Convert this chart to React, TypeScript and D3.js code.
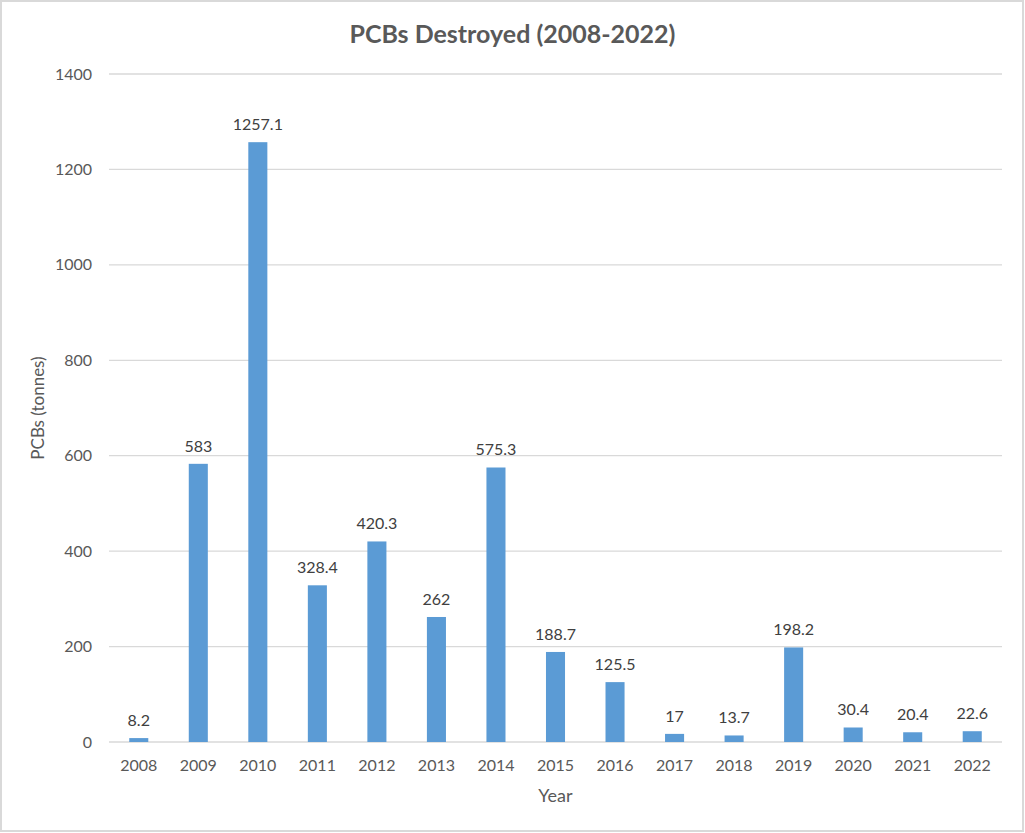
import { useEffect, useRef } from "react";
import * as d3 from "d3";

const years = ["2008", "2009", "2010", "2011", "2012", "2013", "2014", "2015", "2016", "2017", "2018", "2019", "2020", "2021", "2022"];
const tonnes = [8.2, 583, 1257.1, 328.4, 420.3, 262, 575.3, 188.7, 125.5, 17, 13.7, 198.2, 30.4, 20.4, 22.6];
const yTicks = [0, 200, 400, 600, 800, 1000, 1200, 1400];

const W = 1025;
const H = 833;
const FONT = "Lato, 'Open Sans', sans-serif";

export default function App() {
  const svgRef = useRef<SVGSVGElement>(null);

  useEffect(() => {
    const svg = d3.select(svgRef.current);
    svg.selectAll("*").remove();

    const margin = { top: 74, right: 23, bottom: 91, left: 109 };
    const innerW = W - margin.left - margin.right;
    const innerH = H - margin.top - margin.bottom;

    // background + light frame
    svg.append("rect").attr("x", 1).attr("y", 1).attr("width", W - 3).attr("height", H - 3)
      .attr("fill", "#fff").attr("stroke", "#d9d9d9").attr("stroke-width", 2);

    svg.append("text")
      .attr("x", W / 2).attr("y", 43)
      .attr("text-anchor", "middle")
      .attr("font-family", FONT).attr("font-size", 25).attr("font-weight", "bold")
      .attr("fill", "#595959")
      .text("PCBs Destroyed (2008-2022)");

    const g = svg.append("g").attr("transform", `translate(${margin.left},${margin.top})`);

    const x = d3.scaleBand().domain(years).range([0, innerW]).paddingInner(0.68).paddingOuter(0.34);
    const y = d3.scaleLinear().domain([0, 1400]).range([innerH, 0]);

    // gridlines
    g.selectAll(".grid").data(yTicks).enter().append("line")
      .attr("x1", 0).attr("x2", innerW)
      .attr("y1", (d) => y(d)).attr("y2", (d) => y(d))
      .attr("stroke", "#d9d9d9").attr("stroke-width", 1.3);

    // y tick labels
    g.selectAll(".ytick").data(yTicks).enter().append("text")
      .attr("x", -17).attr("y", (d) => y(d)).attr("dy", "0.35em")
      .attr("text-anchor", "end")
      .attr("font-family", FONT).attr("font-size", 16).attr("fill", "#595959")
      .text((d) => d);

    // bars
    g.selectAll(".bar").data(tonnes).enter().append("rect")
      .attr("x", (_, i) => x(years[i])!)
      .attr("y", (d) => y(d))
      .attr("width", x.bandwidth())
      .attr("height", (d) => innerH - y(d))
      .attr("fill", "#5b9bd5");

    // value labels
    g.selectAll(".val").data(tonnes).enter().append("text")
      .attr("x", (_, i) => x(years[i])! + x.bandwidth() / 2)
      .attr("y", (d) => y(d) - 12)
      .attr("text-anchor", "middle")
      .attr("font-family", FONT).attr("font-size", 16).attr("fill", "#404040")
      .text((d) => String(d));

    // x labels
    g.selectAll(".xtick").data(years).enter().append("text")
      .attr("x", (d) => x(d)! + x.bandwidth() / 2)
      .attr("y", innerH + 29)
      .attr("text-anchor", "middle")
      .attr("font-family", FONT).attr("font-size", 16).attr("fill", "#595959")
      .text((d) => d);

    // axis titles
    svg.append("text")
      .attr("x", margin.left + innerW / 2).attr("y", 802)
      .attr("text-anchor", "middle")
      .attr("font-family", FONT).attr("font-size", 18).attr("fill", "#595959")
      .text("Year");

    svg.append("text")
      .attr("transform", `translate(44, ${margin.top + innerH / 2}) rotate(-90)`)
      .attr("text-anchor", "middle")
      .attr("font-family", FONT).attr("font-size", 17).attr("fill", "#595959")
      .text("PCBs (tonnes)");
  }, []);

  return (
    <svg ref={svgRef} width={W} height={H} style={{ display: "block", position: "absolute", left: 0, top: 0 }} />
  );
}
